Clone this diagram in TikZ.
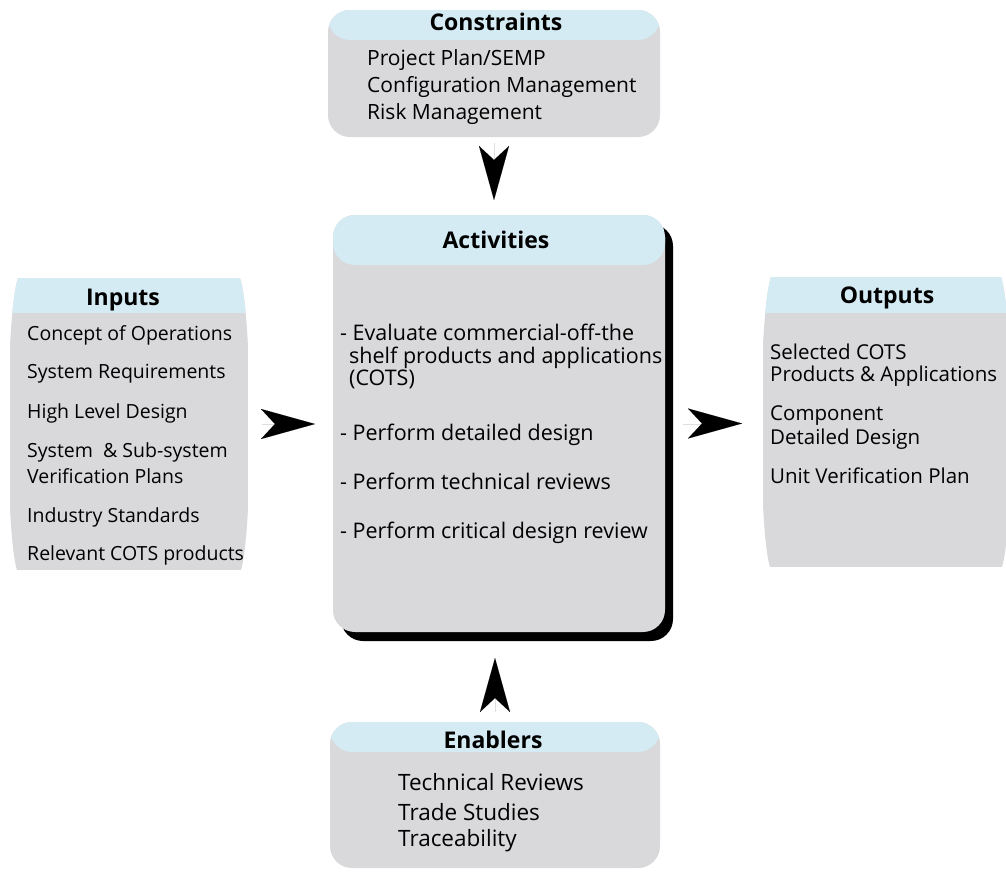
\documentclass[tikz,border=0pt]{standalone}
\usepackage{fontspec}
\setmainfont{Open Sans}
\usetikzlibrary{arrows.meta,shadows}
\definecolor{headblue}{RGB}{212,235,244}
\definecolor{bodygray}{RGB}{217,216,218}

% gray panel with a light-blue title band; #1 = band height
\tikzset{
  panel/.style={inner sep=0pt, outer sep=0pt, fill=bodygray, rounded corners=22pt,
    path picture={\fill[headblue] (path picture bounding box.north west)
      rectangle ([yshift=-#1]path picture bounding box.north east);}},
  hd/.style={anchor=base, font=\fontsize{23}{27}\selectfont\bfseries},
  txt/.style={anchor=base west, inner sep=0pt, font=\fontsize{#1}{24}\selectfont},
  txt/.default=20,
  flow/.style={line width=0.01pt, -{Stealth[length=54pt, width=30pt, inset=14pt]}},
}

% barrel-shaped panel drawn over an invisible node: #1 name, #2 width, #3 height, #4 band height
\newcommand\barrelpanel[4]{%
  \begin{scope}[shift={(#1.north west)}]
    \begin{scope}
      \clip (8,0) -- (#2-8,0) .. controls (#2+5,40) and (#2+5,#3-40) .. (#2-7,#3)
        -- (7,#3) .. controls (-5,#3-40) and (-5,40) .. (8,0) -- cycle;
      \fill[bodygray] (0,0) rectangle (#2,#3);
      \fill[headblue] (0,0) rectangle (#2,#4);
    \end{scope}
  \end{scope}}

\begin{document}
\begin{tikzpicture}[x=1pt,y=-1pt]
\useasboundingbox[fill=white] (0,0) rectangle (1006,873);

% ---- Constraints
\node[panel=30pt, minimum width=332, minimum height=127] (constraints) at (494,73.5) {};
\node[hd] (constraintsT) at (496,30) {Constraints};
\node[txt=21] (c1) at (367,65) {Project Plan/SEMP};
\node[txt=21] (c2) at (367,92) {Configuration Management};
\node[txt=21] (c3) at (367,119) {Risk Management};

% ---- Activities (with solid drop shadow)
\node[panel=50pt, minimum width=332, minimum height=417,
      drop shadow={shadow xshift=8pt, shadow yshift=-9pt, fill=black, opacity=1}]
      (activities) at (499,423.5) {};
\node[hd] (activitiesT) at (496,248) {Activities};
\node[txt=21.5] (a1) at (340,340) {- Evaluate commercial-off-the};
\node[txt=21.5] (a1b) at (349,363) {shelf products and applications};
\node[txt=21.5] (a1c) at (349,385) {(COTS)};
\node[txt=21.5] (a2) at (340,440) {- Perform detailed design};
\node[txt=21.5] (a3) at (340,489) {- Perform technical reviews};
\node[txt=21.5] (a4) at (340,538) {- Perform critical design review};

% ---- Inputs
\node[inner sep=0pt, outer sep=0pt, minimum width=238, minimum height=292] (inputs) at (129,424) {};
\barrelpanel{inputs}{238}{292}{35}
\node[hd] (inputsT) at (123,305) {Inputs};
\node[txt=19.5] (i1) at (27,340) {Concept of Operations};
\node[txt=19.5] (i2) at (27,378) {System Requirements};
\node[txt=19.5] (i3) at (27,418) {High Level Design};
\node[txt=19.5] (i4) at (27,457) {System~ \& Sub-system};
\node[txt=19.5] (i5) at (27,483) {Verification Plans};
\node[txt=19.5] (i6) at (27,522) {Industry Standards};
\node[txt=19.5] (i7) at (27,560) {Relevant COTS products};

% ---- Outputs
\node[inner sep=0pt, outer sep=0pt, minimum width=246, minimum height=290] (outputs) at (886,422) {};
\barrelpanel{outputs}{246}{290}{36}
\node[hd] (outputsT) at (887,303) {Outputs};
\node[txt=20.5] (o1) at (770,359) {Selected COTS};
\node[txt=20.5] (o1b) at (770,381) {Products \& Applications};
\node[txt=20.5] (o2) at (770,420) {Component};
\node[txt=20.5] (o2b) at (770,444) {Detailed Design};
\node[txt=20.5] (o3) at (770,483) {Unit Verification Plan};

% ---- Enablers
\node[panel=30pt, minimum width=330, minimum height=146] (enablers) at (495,795) {};
\node[hd] (enablersT) at (493,748) {Enablers};
\node[txt=22.5] (e1) at (398,790) {Technical Reviews};
\node[txt=22.5] (e2) at (398,820) {Trade Studies};
\node[txt=22.5] (e3) at (398,846) {Traceability};

% ---- flow arrows
\draw[flow, shorten <=6pt, shorten >=15pt] (constraints.south) -- (constraints.south |- activities.north);
\draw[flow, shorten <=10pt, shorten >=26pt] (enablers.north) -- (enablers.north |- activities.south);
\draw[flow, shorten <=14pt, shorten >=18pt] (inputs.east) -- (inputs.east -| activities.west);
\draw[flow, shorten <=18pt, shorten >=21pt] (activities.east) -- (activities.east -| outputs.west);
\end{tikzpicture}
\end{document}
